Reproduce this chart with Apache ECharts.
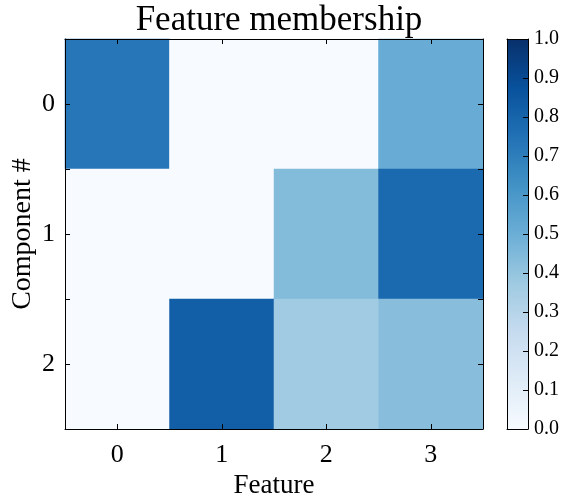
<!DOCTYPE html>
<html>
<head>
<meta charset="utf-8">
<script src="https://cdn.jsdelivr.net/npm/echarts@6/dist/echarts.min.js"></script>
<style>html,body{margin:0;padding:0;background:#fff}#c{width:566px;height:501px}</style>
</head>
<body>
<div id="c"></div>
<script>
const features = ['0', '1', '2', '3'];
const components = ['0', '1', '2'];
const row0 = [0.73, 0.0, 0.0, 0.51];
const row1 = [0.0, 0.0, 0.44, 0.78];
const row2 = [0.0, 0.82, 0.37, 0.43];
const colorbarTicks = [0, 0.1, 0.2, 0.3, 0.4, 0.5, 0.6, 0.7, 0.8, 0.9, 1.0];
const blues = ['#f7fbff', '#deebf7', '#c6dbef', '#9ecae1', '#6baed6', '#4292c6', '#2171b5', '#08519c', '#08306b'];

const rows = [row0, row1, row2];
const data = [];
rows.forEach((r, yi) => r.forEach((v, xi) => data.push([xi, yi, v])));

const FONT = 'Liberation Serif';
const chart = echarts.init(document.getElementById('c'), null, {renderer: 'canvas'});
const tick = (align, show) => ({show: show, inside: true, length: 5, alignWithLabel: align, lineStyle: {color: '#000', width: 1}});
const line = {show: true, onZero: false, lineStyle: {color: '#000', width: 1}};
const noLine = {show: false, onZero: false};

chart.setOption({
  animation: false,
  title: {
    text: 'Feature membership', left: 274, top: -2, textAlign: 'center',
    textStyle: {fontFamily: FONT, fontSize: 35, fontWeight: 'normal', color: '#000'}
  },
  grid: [
    {left: 65, top: 39, width: 418, height: 390, containLabel: false, outerBoundsMode: 'none'},
    {left: 507, top: 39, width: 21, height: 390, show: true, borderWidth: 0, containLabel: false, outerBoundsMode: 'none',
     backgroundColor: {type: 'linear', x: 0, y: 1, x2: 0, y2: 0,
       colorStops: blues.map((c, i) => ({offset: i / (blues.length - 1), color: c}))}}
  ],
  xAxis: [
    {type: 'category', data: features, gridIndex: 0, position: 'bottom', z: 10,
     axisLine: line, axisTick: tick(true, true),
     axisLabel: {fontFamily: FONT, fontSize: 26, color: '#000', margin: 13},
     name: 'Feature', nameLocation: 'middle', nameGap: 43,
     nameTextStyle: {fontFamily: FONT, fontSize: 27, color: '#000'}, splitLine: {show: false}},
    {type: 'category', data: features, gridIndex: 0, position: 'top', z: 10,
     axisLine: line, axisTick: tick(true, true),
     axisLabel: {show: false}, splitLine: {show: false}},
    {type: 'value', gridIndex: 1, min: 0, max: 1, position: 'bottom', z: 10,
     axisLine: line, axisTick: {show: false}, axisLabel: {show: false}, splitLine: {show: false}},
    {type: 'value', gridIndex: 1, min: 0, max: 1, position: 'top', z: 10,
     axisLine: line, axisTick: {show: false}, axisLabel: {show: false}, splitLine: {show: false}}
  ],
  yAxis: [
    {type: 'category', data: components, gridIndex: 0, position: 'left', inverse: true, z: 10,
     axisLine: line, axisTick: tick(true, true),
     axisLabel: {fontFamily: FONT, fontSize: 26, color: '#000', margin: 10},
     name: 'Component #', nameLocation: 'middle', nameGap: 28, nameRotate: 90, nameMoveOverlap: false,
     nameTextStyle: {fontFamily: FONT, fontSize: 28, color: '#000'}, splitLine: {show: false}},
    {type: 'category', data: components, gridIndex: 0, position: 'left', offset: 0, inverse: true, z: 10,
     axisLine: noLine, axisTick: tick(false, true), axisLabel: {show: false}, splitLine: {show: false}},
    {type: 'category', data: components, gridIndex: 0, position: 'right', offset: 0, inverse: true, z: 10,
     axisLine: line, axisTick: tick(true, true),
     axisLabel: {show: false}, splitLine: {show: false}},
    {type: 'category', data: components, gridIndex: 0, position: 'right', offset: 0, inverse: true, z: 10,
     axisLine: noLine, axisTick: tick(false, true), axisLabel: {show: false}, splitLine: {show: false}},
    {type: 'value', gridIndex: 1, position: 'right', offset: 0, min: 0, max: 1, interval: 0.1, z: 10,
     axisLine: line,
     axisTick: {show: true, inside: true, length: 5, lineStyle: {color: '#000', width: 1}},
     axisLabel: {fontFamily: FONT, fontSize: 20, color: '#000', margin: 6,
       formatter: v => (colorbarTicks.includes(Math.round(v * 10) / 10) ? v.toFixed(1) : '')},
     splitLine: {show: false}},
    {type: 'value', gridIndex: 1, position: 'left', offset: 0, min: 0, max: 1, z: 10,
     axisLine: line, axisTick: {show: false}, axisLabel: {show: false}, splitLine: {show: false}}
  ],
  visualMap: {
    type: 'continuous', show: false, min: 0, max: 1, seriesIndex: 0, dimension: 2,
    inRange: {color: blues}
  },
  series: [{
    type: 'heatmap', xAxisIndex: 0, yAxisIndex: 0, data: data,
    itemStyle: {borderWidth: 0}, emphasis: {disabled: true}, progressive: 0
  }]
});
</script>
</body>
</html>
